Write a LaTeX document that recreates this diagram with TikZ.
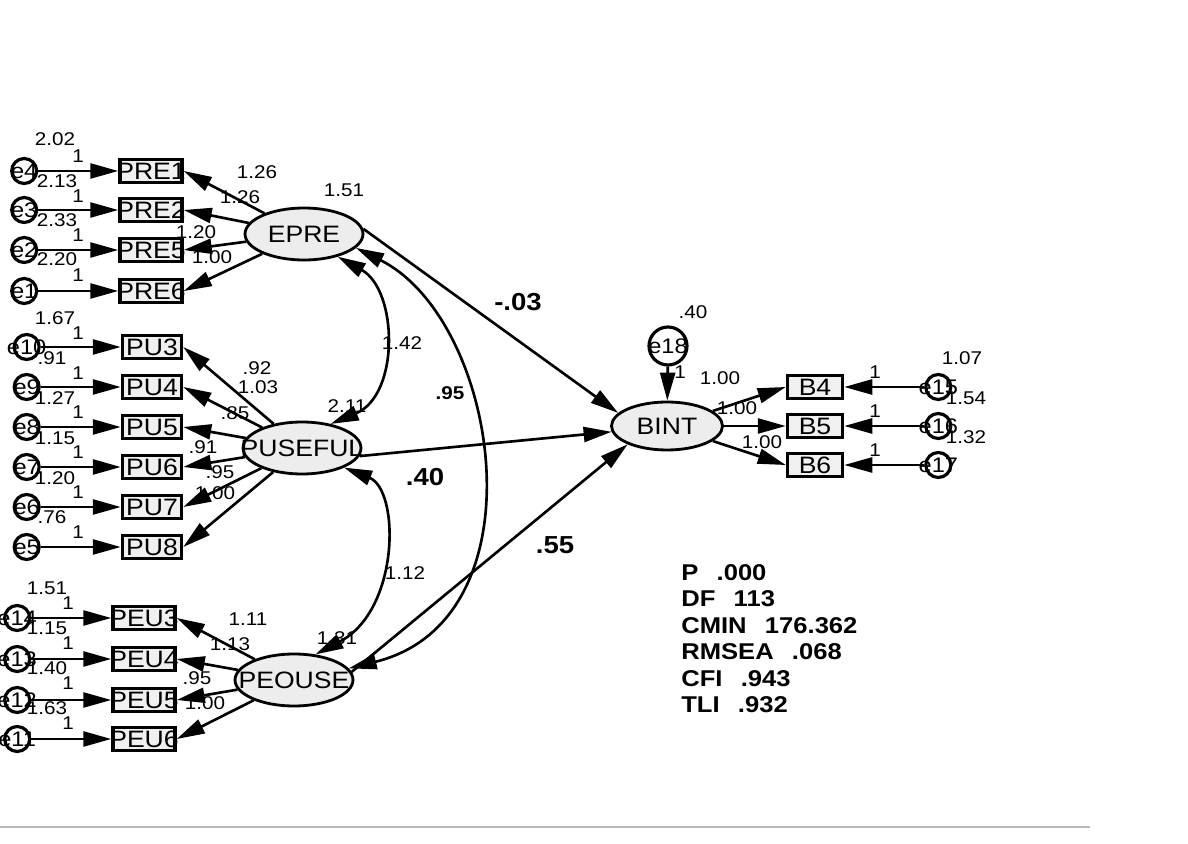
\documentclass[tikz,border=0pt]{standalone}
\usepackage{fontspec}
\setmainfont{Liberation Sans}[FakeStretch=1.12]
\usetikzlibrary{positioning,shapes.geometric,arrows.meta}
% text that may run over the border of its shape
\newcommand{\ovr}[1]{\makebox[0pt]{#1}}

\begin{document}
\begin{tikzpicture}[
    x=0.02cm, y=-0.02cm,
    node distance=1.6cm,
    % Node styles
    latent/.style={ellipse, draw, line width=1.6pt, fill=gray!14, minimum width=2.36cm, minimum height=1.04cm, inner sep=0pt, font=\fontsize{13.5}{13.5}\selectfont},
    obs/.style={draw, line width=2pt, fill=gray!12, minimum width=1.22cm, minimum height=0.46cm, inner sep=0pt, font=\fontsize{13.5}{13.5}\selectfont},
    err/.style={circle, draw, line width=1.8pt, fill=white, minimum size=0.5cm, inner sep=0pt, font=\fontsize{12}{12}\selectfont},
    num/.style={inner sep=0pt, font=\fontsize{10.5}{10.5}\selectfont},
    coef/.style={inner sep=0pt, font=\bfseries\fontsize{14}{14}\selectfont},
    arrow/.style={-{Triangle[length=5.6mm, width=3mm]}, line width=1.5pt},
    cov/.style={{Triangle[length=5.6mm, width=3mm]}-{Triangle[length=5.6mm, width=3mm]}, line width=1.5pt},
]
    \useasboundingbox (0,0) rectangle (1188,844);

    % Latent variables
    \node[latent] (EPRE) at (304,234) {\ovr{EPRE}};
    \node[latent] (PUSEFUL) at (302,448) {\ovr{PUSEFUL}};
    \node[latent] (PEOUSE) at (294,680) {\ovr{PEOUSE}};
    \node[latent, minimum width=2.22cm, minimum height=0.96cm] (BINT) at (667,426) {\ovr{BINT}};

    % EPRE indicators
    \node[obs, minimum width=1.24cm] (PRE1) at (151,171) {\ovr{PRE1}};
    \node[obs, minimum width=1.24cm] (PRE2) at (151,210) {\ovr{PRE2}};
    \node[obs, minimum width=1.24cm] (PRE5) at (151,250) {\ovr{PRE5}};
    \node[obs, minimum width=1.24cm] (PRE6) at (151,291) {\ovr{PRE6}};
    \node[err, left=of PRE1] (e4) {\ovr{e4}};
    \node[err, left=of PRE2] (e3) {\ovr{e3}};
    \node[err, left=of PRE5] (e2) {\ovr{e2}};
    \node[err, left=of PRE6] (e1) {\ovr{e1}};

    % PUSEFUL indicators
    \node[obs, minimum width=1.18cm] (PU3) at (152,347) {\ovr{PU3}};
    \node[obs, minimum width=1.18cm] (PU4) at (152,387) {\ovr{PU4}};
    \node[obs, minimum width=1.18cm] (PU5) at (152,427) {\ovr{PU5}};
    \node[obs, minimum width=1.18cm] (PU6) at (152,467) {\ovr{PU6}};
    \node[obs, minimum width=1.18cm] (PU7) at (152,507) {\ovr{PU7}};
    \node[obs, minimum width=1.18cm] (PU8) at (152,547) {\ovr{PU8}};
    \node[err, left=of PU3] (e10) {\ovr{e10}};
    \node[err, left=of PU4] (e9) {\ovr{e9}};
    \node[err, left=of PU5] (e8) {\ovr{e8}};
    \node[err, left=of PU6] (e7) {\ovr{e7}};
    \node[err, left=of PU7] (e6) {\ovr{e6}};
    \node[err, left=of PU8] (e5) {\ovr{e5}};

    % PEOUSE indicators
    \node[obs, minimum width=1.24cm] (PEU3) at (144,618) {\ovr{PEU3}};
    \node[obs, minimum width=1.24cm] (PEU4) at (144,659) {\ovr{PEU4}};
    \node[obs, minimum width=1.24cm] (PEU5) at (144,700) {\ovr{PEU5}};
    \node[obs, minimum width=1.24cm] (PEU6) at (144,739) {\ovr{PEU6}};
    \node[err, left=of PEU3] (e14) {\ovr{e14}};
    \node[err, left=of PEU4] (e13) {\ovr{e13}};
    \node[err, left=of PEU5] (e12) {\ovr{e12}};
    \node[err, left=of PEU6] (e11) {\ovr{e11}};

    % BINT indicators
    \node[obs, minimum width=1.1cm] (B4) at (815,387) {\ovr{B4}};
    \node[obs, minimum width=1.1cm] (B5) at (815,426) {\ovr{B5}};
    \node[obs, minimum width=1.1cm] (B6) at (815,465) {\ovr{B6}};
    \node[err, right=of B4] (e15) {\ovr{e15}};
    \node[err, right=of B5] (e16) {\ovr{e16}};
    \node[err, right=of B6] (e17) {\ovr{e17}};
    \node[err, minimum size=0.76cm] (e18) at (668,346) {\ovr{e18}};

    % Measurement paths
    \draw[arrow] (e4) -- (PRE1);
    \draw[arrow] (e3) -- (PRE2);
    \draw[arrow] (e2) -- (PRE5);
    \draw[arrow] (e1) -- (PRE6);
    \draw[arrow] (EPRE) -- (PRE1.east);
    \draw[arrow] (EPRE) -- (PRE2.east);
    \draw[arrow] (EPRE) -- (PRE5.east);
    \draw[arrow] (EPRE) -- (PRE6.east);

    \draw[arrow] (e10) -- (PU3);
    \draw[arrow] (e9) -- (PU4);
    \draw[arrow] (e8) -- (PU5);
    \draw[arrow] (e7) -- (PU6);
    \draw[arrow] (e6) -- (PU7);
    \draw[arrow] (e5) -- (PU8);
    \draw[arrow] (PUSEFUL) -- (PU3.east);
    \draw[arrow] (PUSEFUL) -- (PU4.east);
    \draw[arrow] (PUSEFUL) -- (PU5.east);
    \draw[arrow] (PUSEFUL) -- (PU6.east);
    \draw[arrow] (PUSEFUL) -- (PU7.east);
    \draw[arrow] (PUSEFUL) -- (PU8.east);

    \draw[arrow] (e14) -- (PEU3);
    \draw[arrow] (e13) -- (PEU4);
    \draw[arrow] (e12) -- (PEU5);
    \draw[arrow] (e11) -- (PEU6);
    \draw[arrow] (PEOUSE) -- (PEU3.east);
    \draw[arrow] (PEOUSE) -- (PEU4.east);
    \draw[arrow] (PEOUSE) -- (PEU5.east);
    \draw[arrow] (PEOUSE) -- (PEU6.east);

    \draw[arrow] (e15) -- (B4);
    \draw[arrow] (e16) -- (B5);
    \draw[arrow] (e17) -- (B6);
    \draw[arrow] (BINT) -- (B4.west);
    \draw[arrow] (BINT) -- (B5.west);
    \draw[arrow] (BINT) -- (B6.west);
    \draw[arrow] (e18) -- (BINT);

    % Structural paths
    \draw[arrow] (EPRE.5) -- (BINT.165);
    \draw[arrow] (PUSEFUL.-8) -- (BINT.186);
    \draw[arrow] (PEOUSE.8) -- (BINT.205);

    % Covariances
    \draw[cov] (EPRE.-34) .. controls (398,290) and (400,395) .. (PUSEFUL.40);
    \draw[cov] (PUSEFUL.-25) .. controls (400,490) and (400,610) .. (PEOUSE.50);
    \draw[cov] (EPRE.-15) .. controls (500,320) and (545,620) .. (PEOUSE.12);

    % Estimates, EPRE block
    \node[num] (ve4) at (55,139) {2.02};  \node[num] (we4) at (78,156) {1};
    \node[num] (ve3) at (57,181) {2.13};  \node[num] (we3) at (78,196) {1};
    \node[num] (ve2) at (57,220) {2.33};  \node[num] (we2) at (78,235) {1};
    \node[num] (ve1) at (57,259) {2.20};  \node[num] (we1) at (78,275) {1};
    \node[num] (lpre1) at (257,172) {1.26};
    \node[num] (lpre2) at (240,197) {1.26};
    \node[num] (lpre5) at (196,232) {1.20};
    \node[num] (lpre6) at (212,257) {1.00};
    \node[num] (vEPRE) at (344,190) {1.51};

    % Estimates, PUSEFUL block
    \node[num] (ve10) at (55,318) {1.67}; \node[num] (we10) at (78,333) {1};
    \node[num] (ve9) at (52,358) {.91};   \node[num] (we9) at (78,373) {1};
    \node[num] (ve8) at (55,398) {1.27};  \node[num] (we8) at (78,412) {1};
    \node[num] (ve7) at (55,438) {1.15};  \node[num] (we7) at (78,452) {1};
    \node[num] (ve6) at (55,478) {1.20};  \node[num] (we6) at (78,492) {1};
    \node[num] (ve5) at (52,517) {.76};   \node[num] (we5) at (78,532) {1};
    \node[num] (lpu3) at (257,368) {.92};
    \node[num] (lpu4) at (258,387) {1.03};
    \node[num] (lpu5) at (235,413) {.85};
    \node[num] (lpu6) at (203,447) {.91};
    \node[num] (lpu7) at (220,472) {.95};
    \node[num] (lpu8) at (215,493) {1.00};
    \node[num] (vPUSEFUL) at (347,406) {2.11};

    % Estimates, PEOUSE block
    \node[num] (ve14) at (47,588) {1.51}; \node[num] (we14) at (68,603) {1};
    \node[num] (ve13) at (47,628) {1.15}; \node[num] (we13) at (68,643) {1};
    \node[num] (ve12) at (47,668) {1.40}; \node[num] (we12) at (68,683) {1};
    \node[num] (ve11) at (47,708) {1.63}; \node[num] (we11) at (68,723) {1};
    \node[num] (lpeu3) at (248,619) {1.11};
    \node[num] (lpeu4) at (230,644) {1.13};
    \node[num] (lpeu5) at (197,678) {.95};
    \node[num] (lpeu6) at (205,703) {1.00};
    \node[num] (vPEOUSE) at (337,638) {1.31};

    % Estimates, BINT block
    \node[num] (ve15) at (962,358) {1.07}; \node[num] (we15) at (875,372) {1};
    \node[num] (ve16) at (966,398) {1.54}; \node[num] (we16) at (875,411) {1};
    \node[num] (ve17) at (966,437) {1.32}; \node[num] (we17) at (875,450) {1};
    \node[num] (ve18) at (693,312) {.40};  \node[num] (we18) at (680,372) {1};
    \node[num] (lb4) at (720,378) {1.00};
    \node[num] (lb5) at (737,408) {1.00};
    \node[num] (lb6) at (762,442) {1.00};

    % Structural estimates
    \node[coef] (gEPRE) at (518,302) {-.03};
    \node[coef] (gPUSEFUL) at (425,477) {.40};
    \node[coef] (gPEOUSE) at (555,545) {.55};
    \node[num] (cEP) at (402,343) {1.42};
    \node[num, font=\bfseries\fontsize{10.5}{10.5}\selectfont] (cEO) at (450,393) {.95};
    \node[num] (cPO) at (405,573) {1.12};

    % Fit indices
    \node[anchor=north west, align=left, inner sep=0pt, font=\bfseries\fontsize{13}{15.1}\selectfont] (fitstats) at (681,564)
        {P\hspace{0.8em}.000\\DF\hspace{0.8em}113\\CMIN\hspace{0.8em}176.362\\RMSEA\hspace{0.8em}.068\\CFI\hspace{0.8em}.943\\TLI\hspace{0.8em}.932};

    % page rule
    \draw[gray!55, line width=1.6pt] (0,827) -- (1090,827);

\end{tikzpicture}
\end{document}
